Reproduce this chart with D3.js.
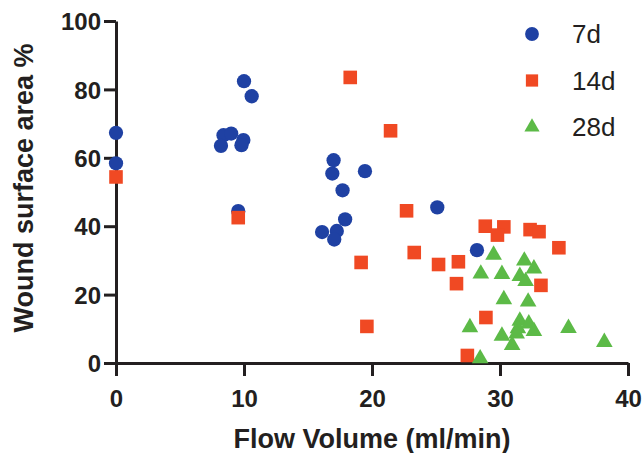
<!DOCTYPE html>
<html>
<head>
<meta charset="utf-8">
<script src="https://cdn.jsdelivr.net/npm/d3@7"></script>
<style>
  body { margin: 0; background: #fff; }
  text { font-family: "Liberation Sans", Arial, sans-serif; fill: #231f20; }
</style>
</head>
<body>
<div id="my_dataviz"></div>
<script>
// DATA ===========================================================================================
const seriesNames = ['7d', '14d', '28d']

const flow7 = [0, 0, 10.0, 10.6, 8.4, 9.0, 8.2, 9.95, 9.8, 9.55, 17.0, 16.9, 19.45, 17.7, 17.9, 16.1, 17.25, 17.05, 25.1, 28.2]
const area7 = [67.3, 58.4, 82.4, 78.0, 66.6, 67.1, 63.5, 65.2, 63.7, 44.4, 59.3, 55.4, 56.1, 50.5, 42.0, 38.3, 38.6, 36.1, 45.5, 33.0]

const flow14 = [0, 9.55, 18.3, 21.45, 22.7, 23.3, 19.15, 19.6, 25.2, 26.75, 26.6, 28.85, 30.3, 29.8, 32.35, 33.05, 34.6, 33.2, 28.9, 27.45]
const area14 = [54.4, 42.5, 83.5, 67.9, 44.5, 32.3, 29.4, 10.7, 28.8, 29.6, 23.2, 40.0, 39.8, 37.4, 39.0, 38.4, 33.7, 22.7, 13.3, 2.2]

const flow28 = [29.5, 31.9, 32.65, 28.5, 30.15, 31.55, 32.0, 30.3, 32.2, 27.65, 31.55, 32.25, 31.4, 32.65, 31.3, 30.15, 30.95, 35.35, 38.15, 28.45]
const area28 = [31.6, 29.9, 27.6, 26.1, 26.0, 25.4, 23.9, 18.6, 17.9, 10.4, 12.3, 11.5, 10.1, 9.3, 8.6, 7.9, 5.2, 10.2, 6.1, 1.3]

const xTicks = [0, 10, 20, 30, 40]
const yTicks = [0, 20, 40, 60, 80, 100]

// SET UP =========================================================================================
const width = 643
const height = 453
const dimensions = {top: 21, bottom: 90, left: 116, right: 15}
const ctr_width = width - dimensions.left - dimensions.right
const ctr_height = height - dimensions.top - dimensions.bottom

const colors = ['#1f41a3', '#f04923', '#5cba47']
const shapes = [d3.symbolCircle, d3.symbolSquare, d3.symbolTriangle]
const sizes = [160, 185, 120]

const svg = d3.select('#my_dataviz')
  .append('svg')
  .attr('width', width)
  .attr('height', height)

const g = svg.append('g')
  .attr('transform', `translate(${dimensions.left}, ${dimensions.top})`)

// SCALES AND AXES ================================================================================
const x = d3.scaleLinear().domain([0, 40]).range([0, ctr_width])
const y = d3.scaleLinear().domain([0, 100]).range([ctr_height, 0])

const xAxis = g.append('g')
  .attr('transform', `translate(0, ${ctr_height})`)
  .call(d3.axisBottom(x).tickValues(xTicks).tickSize(13).tickSizeOuter(0).tickPadding(9))

const yAxis = g.append('g')
  .call(d3.axisLeft(y).tickValues(yTicks).tickSize(12).tickSizeOuter(0).tickPadding(3))

;[xAxis, yAxis].forEach(a => {
  a.select('.domain').attr('stroke', '#231f20').attr('stroke-width', 3)
  a.selectAll('.tick line').attr('stroke', '#231f20').attr('stroke-width', 3)
  a.selectAll('.tick text')
    .style('font-family', '"Liberation Sans", Arial, sans-serif')
    .style('font-size', '24px')
    .style('font-weight', 'bold')
    .attr('fill', '#231f20')
})
yAxis.selectAll('.tick text').attr('dy', '0.36em')
xAxis.selectAll('.tick text').attr('dy', '0.9em')

svg.append('text')
  .attr('x', dimensions.left + ctr_width / 2)
  .attr('y', 448)
  .attr('text-anchor', 'middle')
  .style('font-size', '27px')
  .style('font-weight', 'bold')
  .text('Flow Volume (ml/min)')

svg.append('text')
  .attr('transform', `translate(33, ${dimensions.top + ctr_height / 2 - 4}) rotate(-90)`)
  .attr('text-anchor', 'middle')
  .style('font-size', '27px')
  .style('font-weight', 'bold')
  .text('Wound surface area %')

// MARKS ==========================================================================================
const series = [
  flow7.map((f, i) => ({x: f, y: area7[i]})),
  flow14.map((f, i) => ({x: f, y: area14[i]})),
  flow28.map((f, i) => ({x: f, y: area28[i]}))
]

series.forEach((pts, s) => {
  g.append('g')
    .selectAll('path')
    .data(pts)
    .join('path')
    .attr('transform', d => `translate(${x(d.x)}, ${y(d.y)})`)
    .attr('d', d3.symbol().type(shapes[s]).size(sizes[s]))
    .attr('fill', colors[s])
})

// LEGEND =========================================================================================
const legend = svg.append('g')
  .attr('transform', 'translate(532, 34)')

seriesNames.forEach((name, i) => {
  const row = legend.append('g').attr('transform', `translate(0, ${i * 46.5})`)
  row.append('path')
    .attr('d', d3.symbol().type(shapes[i]).size(i === 2 ? 100 : 150))
    .attr('fill', colors[i])
  row.append('text')
    .attr('x', 40)
    .attr('dy', '0.36em')
    .style('font-size', '26px')
    .text(name)
})
</script>
</body>
</html>
